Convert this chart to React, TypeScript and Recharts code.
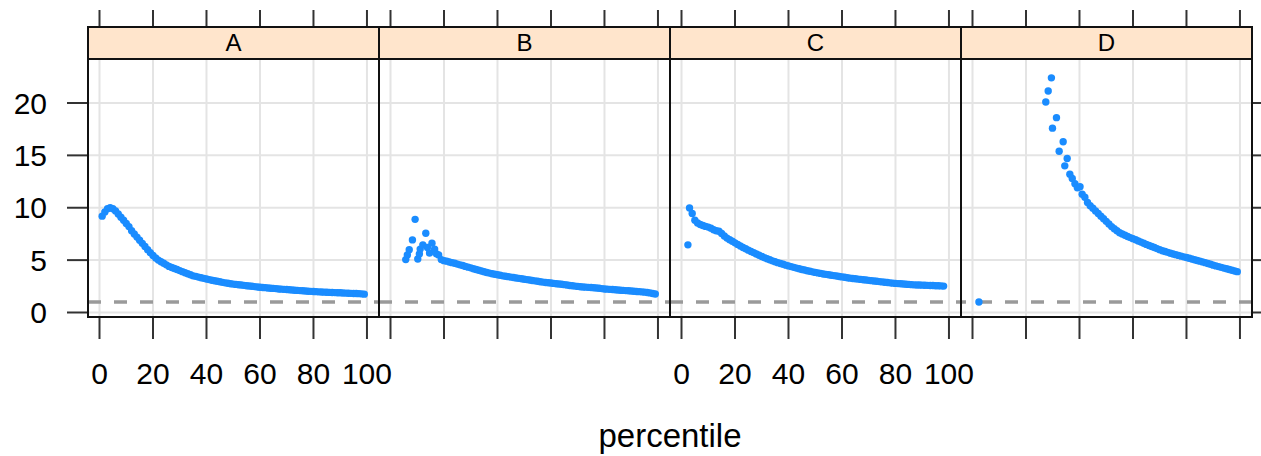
import { ScatterChart, Scatter, XAxis, YAxis, CartesianGrid, ReferenceLine } from "recharts";

const X_TICKS = [0, 20, 40, 60, 80, 100];
const Y_TICKS = [0, 5, 10, 15, 20];
const PANEL_LABELS = ["A", "B", "C", "D"];
const X_LABEL = "percentile";
const REF_Y = 1;

// panel A: regular percentiles from aStart
const aStart = 1;
const aValues = [
  9.2, 9.6, 9.9, 10.0, 9.9, 9.7, 9.4, 9.1, 8.8, 8.5,
  8.2, 7.8, 7.5, 7.2, 6.9, 6.6, 6.3, 6.0, 5.7, 5.45,
  5.2, 5.0, 4.85, 4.7, 4.55, 4.4, 4.3, 4.2, 4.1, 4.0,
  3.9, 3.8, 3.7, 3.6, 3.5, 3.45, 3.38, 3.32, 3.26, 3.2,
  3.14, 3.08, 3.03, 2.98, 2.93, 2.88, 2.83, 2.79, 2.75, 2.71,
  2.68, 2.65, 2.62, 2.59, 2.56, 2.53, 2.5, 2.47, 2.44, 2.41,
  2.39, 2.37, 2.34, 2.32, 2.3, 2.28, 2.25, 2.23, 2.21, 2.19,
  2.17, 2.15, 2.13, 2.11, 2.09, 2.07, 2.05, 2.03, 2.02, 2.0,
  1.99, 1.97, 1.96, 1.94, 1.93, 1.92, 1.91, 1.9, 1.89, 1.88,
  1.86, 1.85, 1.84, 1.83, 1.82, 1.81, 1.8, 1.78, 1.75,
];

// panel B: scattered start, then smooth tail
const bHeadPct = [5.7, 6.3, 7.0, 8.2, 9.2, 10.2, 10.8, 11.1, 12.1, 13.2, 13.8, 14.6, 15.5, 16.5, 17.2, 18.0, 19.0];
const bHeadVal = [5.05, 5.5, 6.0, 6.93, 8.89, 5.1, 5.6, 6.05, 6.46, 7.57, 6.2, 5.68, 6.62, 6.05, 5.6, 5.5, 5.05];
const bStart = 20;
const bValues = [
  4.95, 4.9, 4.82, 4.76, 4.7, 4.62, 4.55, 4.48, 4.4, 4.33,
  4.26, 4.18, 4.1, 4.03, 3.96, 3.89, 3.82, 3.76, 3.7, 3.65,
  3.6, 3.55, 3.5, 3.46, 3.42, 3.38, 3.34, 3.3, 3.26, 3.22,
  3.18, 3.14, 3.1, 3.06, 3.02, 2.98, 2.94, 2.9, 2.87, 2.84,
  2.81, 2.78, 2.75, 2.72, 2.69, 2.66, 2.62, 2.58, 2.55, 2.52,
  2.49, 2.46, 2.44, 2.42, 2.4, 2.38, 2.36, 2.34, 2.31, 2.28,
  2.25, 2.23, 2.21, 2.19, 2.17, 2.15, 2.13, 2.11, 2.09, 2.07,
  2.05, 2.03, 2.01, 1.99, 1.97, 1.94, 1.91, 1.87, 1.82, 1.77,
];

// panel C
const cHeadPct = [2.4];
const cHeadVal = [6.46];
const cStart = 3;
const cValues = [
  9.98, 9.45, 8.8, 8.55, 8.4, 8.3, 8.22, 8.15, 8.05, 7.9,
  7.8, 7.75, 7.55, 7.3, 7.1, 6.95, 6.8, 6.65, 6.5, 6.35,
  6.2, 6.08, 5.95, 5.82, 5.7, 5.58, 5.46, 5.35, 5.24, 5.13,
  5.03, 4.93, 4.84, 4.76, 4.68, 4.6, 4.52, 4.45, 4.38, 4.31,
  4.24, 4.17, 4.11, 4.05, 3.99, 3.94, 3.88, 3.83, 3.78, 3.73,
  3.68, 3.64, 3.6, 3.56, 3.52, 3.48, 3.44, 3.4, 3.36, 3.32,
  3.28, 3.25, 3.22, 3.19, 3.16, 3.13, 3.1, 3.07, 3.04, 3.01,
  2.98, 2.95, 2.92, 2.89, 2.86, 2.83, 2.8, 2.78, 2.76, 2.74,
  2.72, 2.7, 2.68, 2.66, 2.64, 2.63, 2.62, 2.61, 2.6, 2.59,
  2.58, 2.57, 2.56, 2.55, 2.54, 2.52,
];

// panel D: one low point, a sparse steep start, then smooth tail
const dHeadPct = [2.4, 27.4, 28.3, 29.5, 29.9, 31.4, 32.4, 33.9, 34.5, 35.4, 36.4, 37.3, 38.3, 39.2, 40.2, 41.0, 42.0];
const dHeadVal = [1.0, 20.1, 21.15, 22.4, 17.6, 18.6, 15.4, 16.3, 14.0, 14.7, 13.2, 12.8, 12.3, 11.9, 12.0, 11.3, 11.0];
const dStart = 43;
const dValues = [
  10.5, 10.2, 9.95, 9.7, 9.45, 9.2, 8.95, 8.7, 8.45, 8.2,
  8.0, 7.8, 7.62, 7.5, 7.38, 7.25, 7.15, 7.05, 6.94, 6.83,
  6.72, 6.61, 6.5, 6.4, 6.3, 6.2, 6.1, 6.0, 5.9, 5.82,
  5.74, 5.66, 5.59, 5.52, 5.45, 5.38, 5.31, 5.25, 5.18, 5.11,
  5.04, 4.97, 4.9, 4.83, 4.76, 4.68, 4.6, 4.52, 4.45, 4.38,
  4.31, 4.24, 4.17, 4.1, 4.03, 3.96, 3.9,
];

type Pt = { x: number; y: number };
const toPoints = (headPct: number[], headVal: number[], start: number, vals: number[]): Pt[] => [
  ...headPct.map((x, i) => ({ x, y: headVal[i] })),
  ...vals.map((y, i) => ({ x: start + i, y })),
];

const panelData: Pt[][] = [
  toPoints([], [], aStart, aValues),
  toPoints(bHeadPct, bHeadVal, bStart, bValues),
  toPoints(cHeadPct, cHeadVal, cStart, cValues),
  toPoints(dHeadPct, dHeadVal, dStart, dValues),
];

const FONT = "'Liberation Sans', Arial, Helvetica, sans-serif";
const W = 1261;
const H = 456;
const PANEL_W = 291;
const LEFTS = [88, 379, 670, 961];
const STRIP_TOP = 27;
const PLOT_TOP = 59;
const PLOT_BOTTOM = 317;
const X_DOMAIN: [number, number] = [-4.3, 104.5];
const Y_DOMAIN: [number, number] = [-0.43, 24.2];

const tickLine = { stroke: "#333", strokeWidth: 2 };
const tickFont = { fontSize: 30, fill: "#000", fontFamily: FONT };
const blank = () => "";

function Panel({ idx }: { idx: number }) {
  const left = LEFTS[idx];
  const first = idx === 0;
  const last = idx === 3;
  const mRight = last ? 0 : 40;
  const chartLeft = first ? 0 : left - 10;
  const width = first ? left + PANEL_W + mRight : last ? W - chartLeft : PANEL_W + 10 + mRight;
  const showX = idx % 2 === 0;

  return (
    <div style={{ position: "absolute", left: chartLeft, top: 0 }}>
      <ScatterChart
        width={width}
        height={H}
        margin={{ top: PLOT_TOP - 20, right: mRight, bottom: H - PLOT_BOTTOM - 60, left: first ? 0 : 10 }}
      >
        <CartesianGrid stroke="#e4e4e4" strokeWidth={2} />
        <XAxis
          type="number" dataKey="x" domain={X_DOMAIN} ticks={X_TICKS} allowDataOverflow
          height={60} tickSize={22} tickMargin={24} axisLine={false} tickLine={tickLine}
          tick={tickFont} tickFormatter={showX ? undefined : blank} interval={0}
        />
        <XAxis
          xAxisId="top" orientation="top" type="number" dataKey="x" domain={X_DOMAIN} ticks={X_TICKS} allowDataOverflow
          height={20} tickSize={49} axisLine={false} tickLine={tickLine} tick={tickFont} tickFormatter={blank} interval={0}
        />
        <YAxis
          type="number" dataKey="y" domain={Y_DOMAIN} ticks={Y_TICKS} allowDataOverflow
          hide={!first && !last} orientation={last ? "right" : "left"} width={first ? 88 : 9}
          tickSize={21} tickMargin={20} axisLine={false} tickLine={tickLine} tick={tickFont}
          tickFormatter={first ? undefined : blank} interval={0}
        />
        <ReferenceLine y={REF_Y} stroke="#9a9a9a" strokeWidth={3.5} strokeDasharray="13 13" />
        <Scatter
          data={panelData[idx]}
          fill="#1a8cff"
          isAnimationActive={false}
          shape={(p: any) => <circle cx={p.cx} cy={p.cy} r={3.7} fill="#1a8cff" />}
        />
      </ScatterChart>
    </div>
  );
}

export default function App() {
  return (
    <div style={{ position: "absolute", left: 0, top: 0, width: W, height: H, background: "#fff", fontFamily: FONT, overflow: "hidden" }}>
      {PANEL_LABELS.map((_, i) => <Panel key={i} idx={i} />)}
      {PANEL_LABELS.map((lab, i) => (
        <div key={"s" + i}>
          <div style={{
            position: "absolute", left: LEFTS[i] - 1, top: STRIP_TOP - 1, width: PANEL_W + 2, height: PLOT_TOP - STRIP_TOP + 2,
            boxSizing: "border-box", background: "#ffe5cc", border: "2px solid #111",
            display: "flex", alignItems: "center", justifyContent: "center", fontSize: 24, color: "#000",
          }}>{lab}</div>
          <div style={{
            position: "absolute", left: LEFTS[i] - 1, top: STRIP_TOP - 1, width: PANEL_W + 2, height: PLOT_BOTTOM - STRIP_TOP + 2,
            boxSizing: "border-box", border: "2px solid #111", pointerEvents: "none",
          }} />
        </div>
      ))}
      <div style={{ position: "absolute", left: LEFTS[0], top: 419, width: LEFTS[3] + PANEL_W - LEFTS[0], textAlign: "center", fontSize: 33, lineHeight: "33px", color: "#000" }}>
        {X_LABEL}
      </div>
    </div>
  );
}
